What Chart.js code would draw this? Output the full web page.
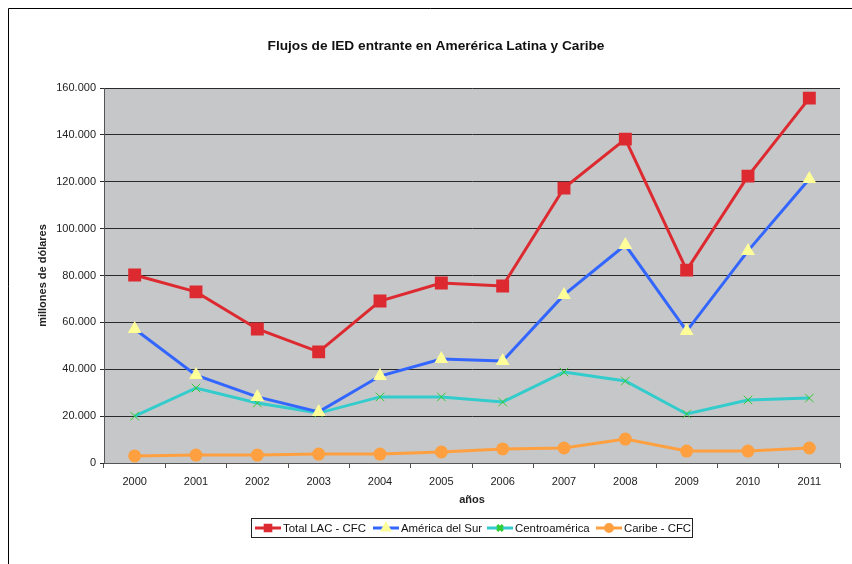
<!DOCTYPE html>
<html>
<head>
<meta charset="utf-8">
<script src="https://cdn.jsdelivr.net/npm/chart.js@4"></script>
<style>
  html, body { margin: 0; padding: 0; background: #fff; }
  #wrap { width: 852px; height: 564px; position: relative; }
</style>
</head>
<body>
<div id="wrap"><canvas id="chart"></canvas></div>
<script>
const years = ["2000", "2001", "2002", "2003", "2004", "2005", "2006", "2007", "2008", "2009", "2010", "2011"];
const totalLAC = [80200, 73000, 57200, 47400, 69100, 76800, 75500, 117300, 138200, 82300, 122400, 155700];
const americaSur = [57200, 37500, 28200, 21800, 37100, 44400, 43500, 71700, 93000, 56300, 90500, 121200];
const centroamerica = [20000, 32000, 25600, 21300, 28200, 28200, 26000, 38800, 35000, 20900, 26900, 27700];
const caribe = [3000, 3400, 3400, 3800, 3800, 4700, 6000, 6400, 10200, 5100, 5100, 6400];
const yTicks = [0, 20000, 40000, 60000, 80000, 100000, 120000, 140000, 160000];

const FONT = "'Liberation Sans', Arial, sans-serif";

// frame lines + title + boxed legend
const decor = {
  id: "decor",
  beforeDraw: (chart) => {
    const { ctx, width, height, chartArea } = chart;
    ctx.save();
    ctx.fillStyle = "#fff";
    ctx.fillRect(0, 0, width, height);
    ctx.fillStyle = "#c6c7c9";
    ctx.fillRect(chartArea.left, chartArea.top, chartArea.right - chartArea.left, chartArea.bottom - chartArea.top);
    ctx.strokeStyle = "#000";
    ctx.lineWidth = 1;
    ctx.beginPath();
    ctx.moveTo(8.5, height);
    ctx.lineTo(8.5, 8.5);
    ctx.lineTo(width, 8.5);
    ctx.stroke();
    ctx.fillStyle = "#111";
    ctx.font = "bold 13.7px " + FONT;
    ctx.textAlign = "center";
    ctx.textBaseline = "middle";
    ctx.fillText("Flujos de IED entrante en Amerérica Latina y Caribe", 436, 46);
    ctx.restore();
  },
  afterDraw: (chart) => {
    const { ctx } = chart;
    const starts = [255, 373, 487, 596];
    ctx.save();
    ctx.strokeStyle = "#222";
    ctx.lineWidth = 1;
    ctx.strokeRect(251.5, 518.5, 441, 19);
    ctx.font = "11.4px " + FONT;
    ctx.textBaseline = "middle";
    chart.data.datasets.forEach((ds, i) => {
      const x = starts[i];
      const y = 528;
      ctx.strokeStyle = ds.borderColor;
      ctx.lineWidth = 3;
      ctx.beginPath();
      ctx.moveTo(x, y);
      ctx.lineTo(x + 26, y);
      ctx.stroke();
      ctx.fillStyle = ds.pointBackgroundColor;
      ctx.strokeStyle = ds.pointBorderColor;
      Chart.helpers.drawPoint(ctx, {
        pointStyle: ds.pointStyle,
        radius: ds.legendRadius,
        borderWidth: 1
      }, x + 13, y);
      ctx.fillStyle = "#111";
      ctx.textAlign = "left";
      ctx.fillText(ds.label, x + 28, y + 1);
    });
    ctx.restore();
  }
};

Chart.defaults.font.family = FONT;

const chart = new Chart(document.querySelector("#chart").getContext("2d"), {
  type: "line",
  data: {
    labels: years,
    datasets: [
      {
        label: "Total LAC - CFC",
        data: totalLAC,
        borderColor: "#dd2a30",
        backgroundColor: "#dd2a30",
        pointBackgroundColor: "#dd2a30",
        pointBorderColor: "#dd2a30",
        pointStyle: "rect",
        pointRadius: 7,
        legendRadius: 4,
        borderWidth: 3,
      },
      {
        label: "América del Sur",
        data: americaSur,
        borderColor: "#3366ff",
        backgroundColor: "#ffff99",
        pointBackgroundColor: "#ffff99",
        pointBorderColor: "#ffff99",
        pointStyle: "triangle",
        pointRadius: 5,
        legendRadius: 4,
        borderWidth: 3,
      },
      {
        label: "Centroamérica",
        data: centroamerica,
        borderColor: "#33cccc",
        backgroundColor: "#33cc33",
        pointBackgroundColor: "#33cc33",
        pointBorderColor: "#33cc33",
        pointBorderWidth: 1,
        pointStyle: "crossRot",
        pointRadius: 6,
        legendRadius: 4,
        borderWidth: 3,
      },
      {
        label: "Caribe - CFC",
        data: caribe,
        borderColor: "#ffa040",
        backgroundColor: "#ffa040",
        pointBackgroundColor: "#ffa040",
        pointBorderColor: "#ffa040",
        pointStyle: "circle",
        pointRadius: 5,
        legendRadius: 3.5,
        borderWidth: 3,
      },
    ],
  },
  options: {
    responsive: true,
    maintainAspectRatio: false,
    animation: false,
    layout: { padding: { left: 0, right: 12, top: 88, bottom: 51 } },
    plugins: {
      legend: { display: false },
      title: { display: false },
      tooltip: { enabled: false },
    },
    elements: { line: { tension: 0 } },
    scales: {
      x: {
        offset: true,
        afterFit: (scale) => { scale.height = 50; },
        grid: {
          offset: true,
          drawOnChartArea: false,
          color: "#555",
          tickLength: 5,
        },
        border: { color: "#555", width: 1 },
        ticks: { color: "#222", font: { size: 11 }, padding: 7, maxRotation: 0 },
        title: {
          display: true,
          text: "años",
          color: "#222",
          font: { size: 11, weight: "bold" },
          padding: { top: 4, bottom: 6 },
        },
      },
      y: {
        min: 0,
        max: 160000,
        afterFit: (scale) => { scale.width = 104; },
        afterBuildTicks: (scale) => {
          scale.ticks = yTicks.map((v) => ({ value: v }));
        },
        grid: { color: "#2a2a2a", tickLength: 4 },
        border: { color: "#555", width: 1 },
        ticks: {
          color: "#222",
          font: { size: 11 },
          padding: 4,
          callback: (v) => v.toLocaleString("de-DE"),
        },
        title: {
          display: true,
          text: "millones de dólares",
          color: "#222",
          font: { size: 11, weight: "bold" },
          padding: { top: 36, bottom: 0 },
        },
      },
    },
  },
  plugins: [decor],
});
</script>
</body>
</html>
